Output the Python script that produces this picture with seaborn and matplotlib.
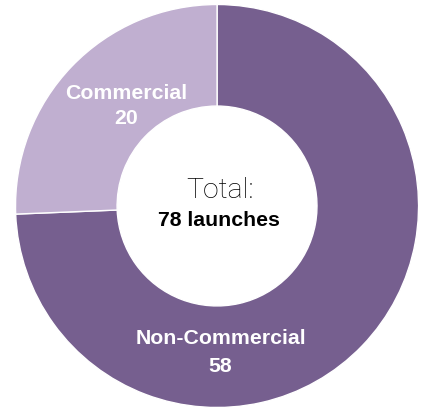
import matplotlib
matplotlib.use("Agg")
import matplotlib.pyplot as plt
import seaborn as sns

# Launch counts by category
categories = ["Non-Commercial", "Commercial"]
launches = [58, 20]
colors = ["#765f8f", "#c0afd0"]

sns.set_theme(style="white")
plt.rcParams["font.family"] = ["Liberation Sans", "DejaVu Sans"]

fig = plt.figure(figsize=(4.22, 4.08), dpi=100)
ax = fig.add_axes([0, 0, 1, 1])

wedges, _ = ax.pie(
    launches,
    colors=colors,
    startangle=90,
    counterclock=False,
    radius=1.0,
    wedgeprops=dict(width=0.504, edgecolor="white", linewidth=1.0),
)

ax.set_xlim(-1.077, 1.017)
ax.set_ylim(-1.0025, 1.0223)
ax.set_aspect("auto")
ax.axis("off")

total = sum(launches)
label_size = 15.3

# Segment labels
ax.text(-0.449, 0.56, categories[1], ha="center", va="center",
        color="white", fontsize=label_size, fontweight="bold")
ax.text(-0.449, 0.435, f"{launches[1]}", ha="center", va="center",
        color="white", fontsize=label_size, fontweight="bold")
ax.text(0.017, -0.66, categories[0], ha="center", va="center",
        color="white", fontsize=label_size, fontweight="bold")
ax.text(0.017, -0.795, f"{launches[0]}", ha="center", va="center",
        color="white", fontsize=label_size, fontweight="bold")

# Centre total
ax.text(0.015, 0.075, "Total:", ha="center", va="center",
        color="black", fontsize=20.5, fontweight="light",
        family=["Roboto", "DejaVu Sans"])
ax.text(0.008, -0.07, f"{total} launches", ha="center", va="center",
        color="black", fontsize=label_size, fontweight="bold")

fig.savefig("out.png", dpi=100, facecolor="white")
